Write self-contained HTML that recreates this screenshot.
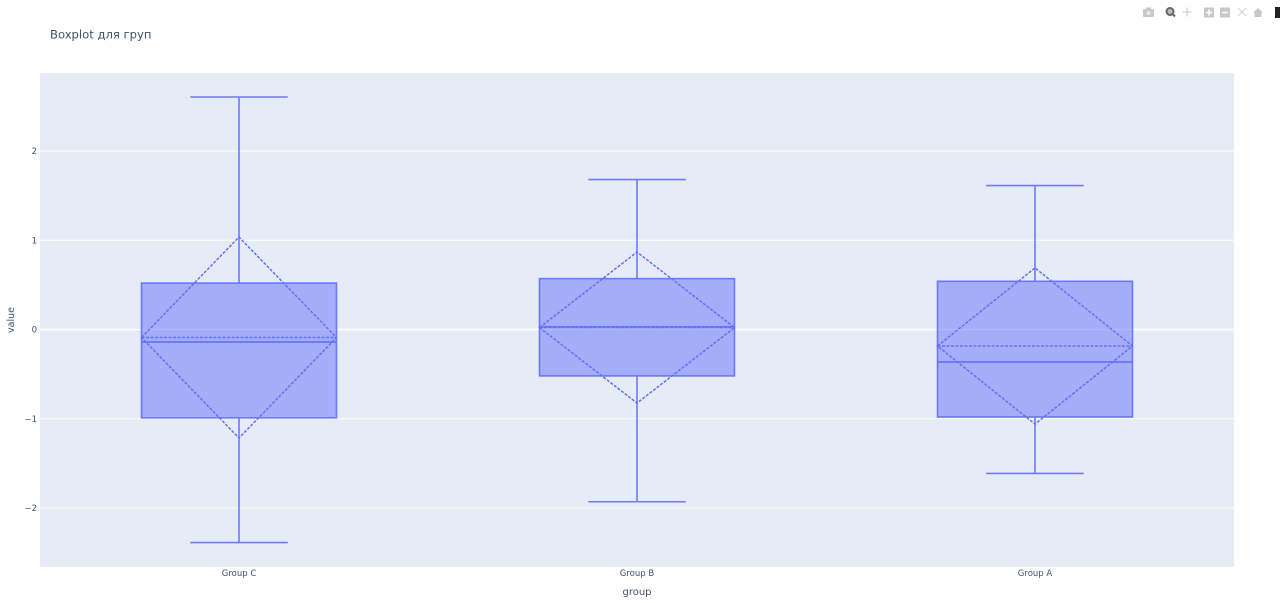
<!DOCTYPE html>
<html>
<head>
<meta charset="utf-8">
<title>Boxplot для груп</title>
<style>
html,body{margin:0;padding:0;background:#fff;width:1280px;height:603px;overflow:hidden}
svg{display:block}
text{font-family:"DejaVu Sans","Liberation Sans",sans-serif;fill:#3d5270}
</style>
</head>
<body>
<svg id="chart" width="1280" height="603" viewBox="0 0 1280 603" xmlns="http://www.w3.org/2000/svg">
  <rect x="40" y="73" width="1194" height="494" fill="#e5ecf6"/>
  <g id="grid"></g>
  <g id="ticks"></g>
  <g id="boxes"></g>
  <text x="50" y="38.500" font-size="11.600">Boxplot для груп</text>
  <text x="637" y="595" font-size="10" text-anchor="middle">group</text>
  <text transform="translate(14,320) rotate(-90)" font-size="9.500" text-anchor="middle">value</text>
  <g fill="#c8c8c8">
    <g>
      <rect x="1143" y="9" width="11" height="8" rx="1"/><rect x="1146" y="7.500" width="5" height="2"/><circle cx="1148.500" cy="13" r="2" fill="#e8e8e8"/>
    </g>
    <g>
      <circle cx="1170" cy="11.500" r="3.500" fill="#bbb" stroke="#666" stroke-width="2"/><path d="M1172.500 14 L1175 16.500" stroke="#666" stroke-width="2"/>
    </g>
    <g>
      <path d="M1187 7.500 V16.500 M1182.500 12 H1191.500" stroke="#d0d0d0" stroke-width="1.300" fill="none"/>
    </g>
    <g>
      <rect x="1204" y="7.500" width="10" height="10" rx="1"/><path d="M1209 9.500 V15.500 M1206 12.500 H1212" stroke="#fff" stroke-width="1.500"/>
    </g>
    <g>
      <rect x="1220" y="7.500" width="10" height="10" rx="1"/><path d="M1222 12.500 H1228" stroke="#fff" stroke-width="1.500"/>
    </g>
    <g>
      <path d="M1238 8 L1246 16 M1246 8 L1238 16" stroke="#d8d8d8" stroke-width="1.200" fill="none"/>
    </g>
    <g>
      <path d="M1253 12.500 L1258 8 L1263 12.500 H1261.500 V17 H1254.500 V12.500 Z"/>
    </g>
    <g>
      <rect x="1275" y="7" width="5" height="11" fill="#222"/>
    </g>
  </g>
</svg>
<script>
// Chart data
var categories = ["Group C", "Group B", "Group A"];
var upperFence = [2.605, 1.68, 1.613];
var q3 = [0.52, 0.57, 0.54];
var median = [-0.14, 0.03, -0.364];
var q1 = [-0.99, -0.52, -0.98];
var lowerFence = [-2.387, -1.93, -1.613];
var means = [-0.09, 0.022, -0.185];
var stdDevs = [1.126, 0.846, 0.875];
var yTicks = [-2, -1, 0, 1, 2];
var yTickLabels = ["\u22122", "\u22121", "0", "1", "2"];

// Axis functions
var plotLeft = 40, plotWidth = 1194, plotTop = 73, plotBottom = 567;
function xScale(i) { return plotLeft + (i + 0.5) / categories.length * plotWidth; }
function yScale(v) { return 329.5 - v * 89.25; }
var bandWidth = plotWidth / categories.length;
var boxHalf = bandWidth * 0.245;
var capHalf = boxHalf / 2;

var NS = "http://www.w3.org/2000/svg";
function make(tag, attrs, parent) {
  var el = document.createElementNS(NS, tag);
  for (var k in attrs) el.setAttribute(k, attrs[k]);
  parent.appendChild(el);
  return el;
}

var gridG = document.getElementById("grid");
var ticksG = document.getElementById("ticks");
var boxesG = document.getElementById("boxes");
var traceColor = "#636efa";

yTicks.forEach(function (t, i) {
  var y = yScale(t);
  var line = make("line", {x1: plotLeft, x2: plotLeft + plotWidth, y1: y, y2: y, stroke: "#fff", "stroke-width": t === 0 ? 1.6 : 0.9}, gridG);
  
  
  var label = make("text", {x: 37, y: y + 3, "font-size": 8.5, "text-anchor": "end"}, ticksG);
  
  
  label.textContent = yTickLabels[i];
});

categories.forEach(function (c, i) {
  var cx = xScale(i);
  var left = cx - boxHalf, right = cx + boxHalf;

  var label = make("text", {x: cx, y: 576, "font-size": 8.5, "text-anchor": "middle"}, ticksG);
  
  
  label.textContent = c;

  var g = make("g", {}, boxesG);
  
  

  var yQ1 = yScale(q1[i]), yQ3 = yScale(q3[i]), yMed = yScale(median[i]);
  var yUp = yScale(upperFence[i]), yLow = yScale(lowerFence[i]);
  var yMean = yScale(means[i]);
  var ySdTop = yScale(means[i] + stdDevs[i]), ySdBottom = yScale(means[i] - stdDevs[i]);

  var box = make("rect", {x: left, y: yQ3, width: right - left, height: yQ1 - yQ3,
    fill: "rgba(99,110,250,0.5)", stroke: traceColor, "stroke-width": 1.6, "stroke-opacity": 0.9}, g);
  
  

  var med = make("line", {x1: left, x2: right, y1: yMed, y2: yMed, stroke: traceColor, "stroke-width": 1.7, "stroke-opacity": 0.9}, g);
  
  

  var wu = make("path", {d: "M" + cx + " " + yQ3 + " V" + yUp + " M" + (cx - capHalf) + " " + yUp + " H" + (cx + capHalf),
    fill: "none", stroke: traceColor, "stroke-width": 1.6, "stroke-opacity": 0.9}, g);
  
  

  var wl = make("path", {d: "M" + cx + " " + yQ1 + " V" + yLow + " M" + (cx - capHalf) + " " + yLow + " H" + (cx + capHalf),
    fill: "none", stroke: traceColor, "stroke-width": 1.6, "stroke-opacity": 0.9}, g);
  
  

  var sd = make("path", {d: "M" + left + " " + yMean + " L" + cx + " " + ySdTop + " L" + right + " " + yMean + " L" + cx + " " + ySdBottom + " Z",
    fill: "none", stroke: traceColor, "stroke-width": 1.5, "stroke-dasharray": "3 1.5"}, g);
  
  

  var mean = make("line", {x1: left, x2: right, y1: yMean, y2: yMean, stroke: traceColor, "stroke-width": 1.5, "stroke-dasharray": "3 1.5"}, g);
  
  
});
</script>
</body>
</html>
